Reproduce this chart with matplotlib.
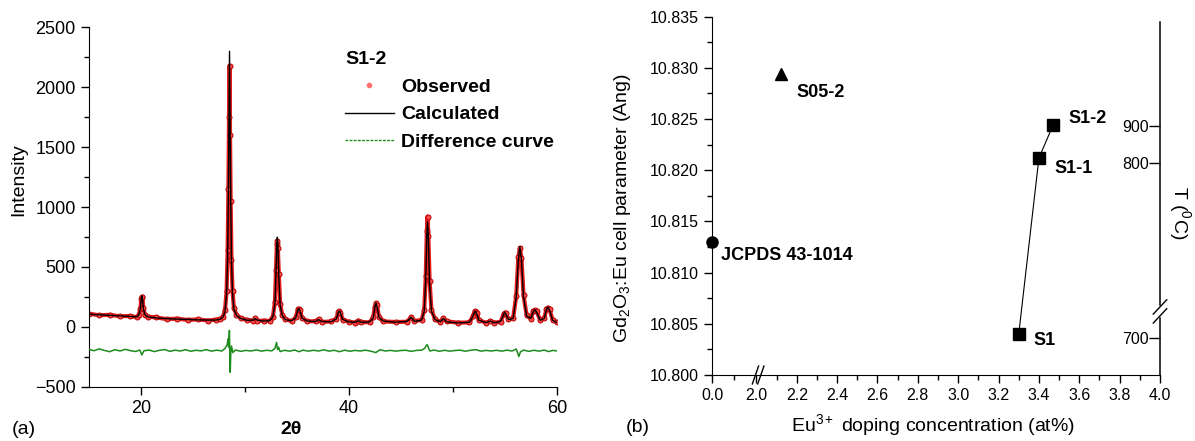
import numpy as np
import matplotlib
matplotlib.use('Agg')
import matplotlib.pyplot as plt
from matplotlib.ticker import MultipleLocator, FixedLocator, FormatStrFormatter
from matplotlib.lines import Line2D

# (a) Rietveld refinement of sample S1-2
two_theta = [15.0, 16.0, 17.0, 18.0, 19.0, 19.6, 19.8, 19.95, 20.05, 20.1, 20.15, 20.25, 20.4, 20.7,
             21.5, 22.5, 23.5, 24.5, 25.5, 26.5, 27.2,
             27.6, 27.9, 28.1, 28.25, 28.35, 28.42, 28.48, 28.53, 28.58, 28.64, 28.72, 28.82, 28.95, 29.2, 29.6,
             30.2, 30.8, 31.0, 31.2, 31.8, 32.4,
             32.7, 32.9, 33.0, 33.08, 33.13, 33.18, 33.27, 33.4, 33.6, 33.9, 34.5,
             34.9, 35.1, 35.2, 35.3, 35.5, 36.0,
             36.8, 37.1, 37.4, 38.3,
             38.8, 39.0, 39.1, 39.2, 39.4, 40.0,
             40.6, 40.9, 41.2, 42.0,
             42.35, 42.5, 42.6, 42.7, 42.9, 43.3, 44.5,
             45.6, 46.0, 46.3,
             47.0, 47.25, 47.4, 47.5, 47.57, 47.65, 47.77, 47.95, 48.3, 48.8,
             49.1, 49.4, 50.5, 51.6,
             51.95, 52.1, 52.2, 52.3, 52.5, 53.2,
             53.6, 54.0, 54.6,
             54.9, 55.0, 55.1, 55.35,
             55.8, 56.1, 56.3, 56.45, 56.6, 56.8, 57.1, 57.5,
             57.75, 57.9, 58.05, 58.4,
             58.8, 59.0, 59.15, 59.3, 59.6, 60.0]
calc = [105, 100, 96, 91, 86, 84, 95, 150, 240, 258, 240, 150, 100, 82,
        74, 68, 64, 61, 58, 56, 56,
        62, 80, 130, 280, 600, 1100, 1700, 2300, 1750, 1100, 550, 280, 150, 95, 70,
        55, 55, 68, 55, 48, 52,
        80, 200, 450, 700, 748, 690, 420, 180, 95, 60, 50,
        75, 140, 152, 135, 72, 48,
        44, 60, 44, 42,
        65, 120, 132, 115, 62, 40,
        38, 50, 38, 40,
        75, 160, 200, 175, 80, 48, 38,
        45, 80, 45,
        55, 130, 400, 760, 875, 740, 360, 130, 60, 42,
        70, 42, 32, 38,
        90, 125, 128, 110, 55, 34,
        48, 33, 45,
        105, 122, 108, 60,
        70, 250, 560, 670, 560, 250, 90, 70,
        130, 142, 125, 55,
        70, 145, 164, 140, 55, 35]
obs = [110, 96, 100, 88, 90, 80, 98, 145, 230, 250, 245, 160, 95, 85,
       78, 64, 68, 57, 62, 52, 60,
       65, 85, 140, 300, 640, 1150, 1750, 2180, 1600, 1050, 560, 300, 160, 100, 72,
       58, 52, 72, 50, 52, 49,
       85, 210, 470, 690, 715, 660, 440, 190, 100, 64, 47,
       78, 145, 148, 140, 75, 45,
       47, 62, 40, 45,
       68, 125, 128, 118, 60, 43,
       35, 52, 40, 37,
       78, 165, 195, 180, 85, 45, 40,
       42, 82, 48,
       58, 140, 420, 800, 920, 760, 380, 140, 62, 40,
       72, 45, 35, 36,
       92, 128, 125, 112, 58, 32,
       50, 35, 42,
       110, 118, 112, 62,
       72, 260, 580, 655, 575, 265, 95, 68,
       135, 140, 128, 58,
       72, 150, 160, 145, 58, 38]
diff_theta = [15.0, 15.5, 16.0, 16.5, 17.0, 17.5, 18.0, 18.5, 19.0, 19.5, 19.9, 20.1, 20.3, 20.8,
              21.3, 21.8, 22.3, 22.8, 23.3, 23.8, 24.3, 24.8, 25.3, 25.8, 26.3, 26.8, 27.3, 27.8,
              28.1, 28.3, 28.4, 28.45, 28.52, 28.56, 28.6, 28.65, 28.72, 28.85, 29.1, 29.6,
              30.1, 30.6, 31.1, 31.6, 32.1, 32.6, 32.9, 33.05, 33.15, 33.25, 33.4, 33.8,
              34.3, 34.8, 35.2, 35.6, 36.1, 36.6, 37.1, 37.6, 38.1, 38.6, 39.1, 39.6,
              40.1, 40.6, 41.1, 41.6, 42.1, 42.6, 43.0, 43.5, 44.0, 44.5, 45.0, 45.5,
              46.0, 46.5, 47.0, 47.3, 47.45, 47.55, 47.65, 47.8, 48.2, 48.7, 49.2, 49.7,
              50.2, 50.7, 51.2, 51.7, 52.2, 52.7, 53.2, 53.7, 54.2, 54.7, 55.2, 55.7,
              56.1, 56.35, 56.5, 56.8, 57.3, 57.8, 58.3, 58.8, 59.2, 59.6, 60.0]
diff = [-188, -200, -184, -197, -208, -191, -202, -188, -199, -206, -194, -235, -200, -194,
        -207, -196, -190, -205, -195, -202, -191, -204, -196, -201, -191, -203, -195, -202,
        -180, -150, -100, -170, -30, -250, -380, -220, -160, -215, -193, -205,
        -197, -202, -193, -203, -196, -201, -180, -130, -190, -170, -207, -196,
        -203, -194, -208, -195, -203, -196, -202, -192, -203, -196, -208, -195,
        -204, -197, -202, -195, -203, -215, -191, -202, -197, -203, -198, -196,
        -205, -197, -195, -180, -155, -150, -175, -202, -194, -204, -196, -203,
        -198, -195, -204, -196, -191, -203, -197, -202, -196, -203, -195, -202,
        -185, -248, -210, -194, -205, -196, -203, -194, -207, -197, -201]

# (b) cell parameter vs Eu3+ concentration
conc_ref = [0.0]
a_ref = [10.813]
conc_s05 = [2.12]
a_s05 = [10.8294]
conc_s1 = [3.30, 3.40, 3.47]
a_s1 = [10.8040, 10.8212, 10.8244]
t_s1 = [700, 800, 900]
t_tick_y = [10.8036, 10.8207, 10.8243]
point_names = ['JCPDS 43-1014', 'S05-2', 'S1', 'S1-1', 'S1-2']
name_x = [0.40, 2.20, 3.375, 3.475, 3.545]
name_y = [10.8117, 10.8276, 10.8034, 10.8202, 10.8251]
conc_ticks = [0.0, 2.0, 2.2, 2.4, 2.6, 2.8, 3.0, 3.2, 3.4, 3.6, 3.8, 4.0]

plt.rcParams['font.family'] = ['Liberation Sans', 'DejaVu Sans']
plt.rcParams['mathtext.fontset'] = 'custom'
plt.rcParams['mathtext.rm'] = 'Liberation Sans'
plt.rcParams['mathtext.it'] = 'Liberation Sans:italic'
plt.rcParams['mathtext.bf'] = 'Liberation Sans:bold'

W, H = 1195, 441
fig = plt.figure(figsize=(W / 100, H / 100), dpi=100)


def box(l, t, r, b):
    return [l / W, 1 - b / H, (r - l) / W, (b - t) / H]


# ---- panel (a)
ax1 = fig.add_axes(box(88.8, 27.3, 556.8, 386.7))
ax1.plot(two_theta, obs, color='#e41e1e', lw=3.0, zorder=1)
ax1.plot(two_theta, obs, ls='none', marker='o', ms=3.6, mfc='#ff4a4a', mec='#b40000', mew=0.7, zorder=2)
ax1.plot(two_theta, calc, color='black', lw=1, zorder=3)
ax1.plot(diff_theta, diff, color='#1c8c1c', lw=1.1, zorder=3)
ax1.set_xlim(15, 60)
ax1.set_ylim(-500, 2500)
ax1.xaxis.set_major_locator(MultipleLocator(20))
ax1.xaxis.set_minor_locator(MultipleLocator(10))
ax1.yaxis.set_major_locator(MultipleLocator(500))
ax1.yaxis.set_minor_locator(MultipleLocator(250))
ax1.tick_params(which='major', length=6, width=1, labelsize=13)
ax1.tick_params(which='minor', length=3.5, width=1)
for s in ['top', 'right']:
    ax1.spines[s].set_visible(False)

h_obs = Line2D([], [], ls='none', marker='o', ms=3, mfc='#ff6f6f', mec='#ff6f6f')
h_calc = Line2D([], [], color='black', lw=1)
h_diff = Line2D([], [], color='#1c8c1c', lw=1, ls=(0, (2, 1)))
leg = ax1.legend([h_obs, h_calc, h_diff], ['Observed', 'Calculated', 'Difference curve'],
                 title='S1-2', loc='upper left', bbox_to_anchor=(0.5474, 0.934),
                 frameon=False, prop={'weight': 'bold', 'size': 14},
                 title_fontproperties={'weight': 'bold', 'size': 14},
                 handlelength=2.5, handletextpad=0.4, labelspacing=0.52,
                 borderpad=0, borderaxespad=0)
leg._legend_box.align = 'left'

fig.text(19 / W, 1 - 180 / H, 'Intensity', rotation=90, ha='center', va='center', fontsize=14)
fig.text(291 / W, 1 - 430 / H, '2θ', ha='center', va='center', fontsize=14, fontweight='bold')
fig.text(11.5 / W, 1 - 430 / H, '(a)', ha='left', va='center', fontsize=14)


# ---- panel (b), broken x axis between 0 and 2
def fwd(x):
    x = np.asarray(x, dtype=float)
    return np.where(x <= 2.0, x * 0.11, x - 1.78)


def inv(u):
    u = np.asarray(u, dtype=float)
    return np.where(u <= 0.22, u / 0.11, u + 1.78)


ax2 = fig.add_axes(box(712, 16.7, 1160, 375))
ax2.set_xscale('function', functions=(fwd, inv))
ax2.set_xlim(0, 4.0)
ax2.set_ylim(10.800, 10.835)
ax2.plot(conc_s1, a_s1, color='black', lw=0.8)
ax2.plot(conc_s1, a_s1, ls='none', marker='s', ms=8, color='black')
ax2.plot(conc_s05, a_s05, ls='none', marker='^', ms=8.5, color='black')
ax2.plot(conc_ref, a_ref, ls='none', marker='o', ms=8, color='black', clip_on=False, zorder=5)
for name, x, y in zip(point_names, name_x, name_y):
    ax2.text(x, y, name, ha='left', va='center', fontsize=13, fontweight='bold')

ax2.xaxis.set_major_locator(FixedLocator(conc_ticks))
ax2.xaxis.set_minor_locator(FixedLocator([1.0] + [2.1 + 0.2 * i for i in range(10)]))
ax2.xaxis.set_major_formatter(FormatStrFormatter('%.1f'))
ax2.yaxis.set_major_locator(MultipleLocator(0.005))
ax2.yaxis.set_minor_locator(MultipleLocator(0.0025))
ax2.yaxis.set_major_formatter(FormatStrFormatter('%.3f'))
ax2.tick_params(which='major', length=6, width=1, labelsize=11.5)
ax2.tick_params(which='minor', length=3.5, width=1)
for s in ['top', 'right']:
    ax2.spines[s].set_visible(False)

# break marks on x axis
for cx in [0.097, 0.109]:
    ax2.plot([cx - 0.007, cx + 0.007], [-0.025, 0.025], transform=ax2.transAxes,
             color='black', lw=1, clip_on=False)

# temperature axis on the right, with a break
ax2.plot([1, 1], [0, 0.16], transform=ax2.transAxes, color='black', lw=1.1, clip_on=False)
ax2.plot([1, 1], [0.195, 0.986], transform=ax2.transAxes, color='black', lw=1.1, clip_on=False)
for cy in [0.165, 0.19]:
    ax2.plot([0.985, 1.015], [cy - 0.02, cy + 0.02], transform=ax2.transAxes,
             color='black', lw=1, clip_on=False)

ax3 = ax2.twinx()
ax3.set_ylim(ax2.get_ylim())
ax3.set_yticks(t_tick_y)
ax3.set_yticklabels([str(t) for t in t_s1])
for s in ax3.spines.values():
    s.set_visible(False)
ax3.tick_params(axis='y', direction='in', length=8, width=1, pad=-8, labelsize=11.5)
plt.setp(ax3.get_yticklabels(), ha='right')

fig.text(622.6 / W, 1 - 208 / H, 'Gd$_2$O$_3$:Eu cell parameter (Ang)', rotation=90,
         ha='center', va='center', fontsize=14)
fig.text(932.7 / W, 1 - 425 / H, 'Eu$^{3+}$ doping concentration (at%)',
         ha='center', va='center', fontsize=14)
fig.text(626 / W, 1 - 427 / H, '(b)', ha='left', va='center', fontsize=14)
fig.text(1180 / W, 1 - 213 / H, 'T ($^0$C)', rotation=270, ha='center', va='center', fontsize=14)

fig.savefig('out.png', dpi=100)
